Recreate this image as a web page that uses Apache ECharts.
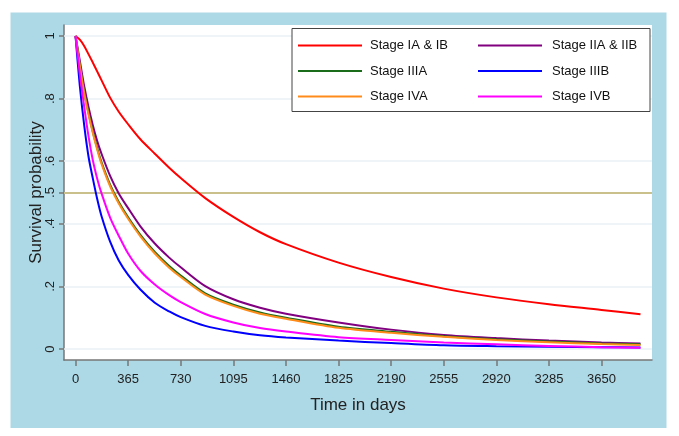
<!DOCTYPE html>
<html>
<head>
<meta charset="utf-8">
<script src="https://cdn.jsdelivr.net/npm/echarts@6/dist/echarts.min.js"></script>
<style>
  html, body { margin: 0; padding: 0; background: #fff; }
  #chart { width: 679px; height: 436px; }
</style>
</head>
<body>
<div id="chart"></div>
<script>
// time points (days) the curves were read at
var days = [0, 30, 60, 90, 120, 150, 180, 240, 300, 365, 450, 550, 650, 730, 900,
            1095, 1280, 1460, 1825, 2190, 2555, 2920, 3285, 3650, 3920];

var stageI    = [1, 0.988, 0.968, 0.942, 0.915, 0.887, 0.859, 0.803, 0.758, 0.718, 0.67, 0.624, 0.579, 0.546, 0.482,
                 0.422, 0.373, 0.335, 0.276, 0.230, 0.193, 0.165, 0.143, 0.125, 0.111];
var stageII   = [1, 0.92, 0.84, 0.773, 0.715, 0.665, 0.624, 0.553, 0.497, 0.45, 0.392, 0.337, 0.292, 0.261, 0.201,
                 0.159, 0.132, 0.113, 0.085, 0.062, 0.045, 0.035, 0.027, 0.021, 0.018];
var stageIIIA = [1, 0.907, 0.821, 0.754, 0.694, 0.642, 0.597, 0.525, 0.47, 0.421, 0.365, 0.31, 0.265, 0.235, 0.178,
                 0.142, 0.117, 0.1, 0.071, 0.055, 0.041, 0.031, 0.024, 0.018, 0.015];
var stageIIIB = [1, 0.84, 0.715, 0.615, 0.545, 0.48, 0.425, 0.343, 0.283, 0.237, 0.19, 0.148, 0.12, 0.102, 0.074,
                 0.056, 0.044, 0.037, 0.027, 0.019, 0.012, 0.009, 0.007, 0.006, 0.005];
var stageIVA  = [1, 0.905, 0.818, 0.75, 0.69, 0.638, 0.592, 0.52, 0.465, 0.416, 0.36, 0.305, 0.26, 0.23, 0.174,
                 0.138, 0.113, 0.097, 0.068, 0.052, 0.039, 0.029, 0.022, 0.016, 0.013];
var stageIVB  = [1, 0.878, 0.775, 0.68, 0.603, 0.545, 0.498, 0.42, 0.362, 0.305, 0.25, 0.206, 0.172, 0.15, 0.112,
                 0.085, 0.067, 0.056, 0.038, 0.029, 0.021, 0.015, 0.01, 0.006, 0.004];

var xTicks = [0, 365, 730, 1095, 1460, 1825, 2190, 2555, 2920, 3285, 3650];
var yTicks = [0, 0.2, 0.4, 0.5, 0.6, 0.8, 1];
var yGrid  = [0, 0.2, 0.4, 0.6, 0.8, 1];
var refLine = 0.5;

var chart = echarts.init(document.getElementById('chart'));

function pairs(vals) {
    return days.map(function (d, i) { return [d, vals[i]]; });
}

function curve(name, vals, color) {
    return {
        name: name,
        type: 'line',
        data: pairs(vals),
        symbol: 'none',
        smooth: 0.3,
        lineStyle: { color: color, width: 2 },
        itemStyle: { color: color },
        z: 3
    };
}

var font = 'Liberation Sans, Arial, sans-serif';

function legendCol(left, names, pad) {
    return {
        left: left, top: 39, orient: 'vertical', padding: 0,
        icon: 'rect', itemWidth: 64, itemHeight: 2, itemGap: 12.5,
        textStyle: { fontSize: 13, color: '#111', padding: [0, 0, 0, pad] },
        data: names
    };
}

option = {
    animation: false,
    backgroundColor: '#fff',
    textStyle: { fontFamily: font },
    graphic: [
        { type: 'rect', z: -2, silent: true,
          shape: { x: 10.5, y: 12.5, width: 656, height: 415.5 },
          style: { fill: '#add8e6' } },
        { type: 'rect', z: -1, silent: true,
          shape: { x: 64, y: 25, width: 588, height: 335 },
          style: { fill: '#ffffff' } },
        { type: 'rect', z: 3, silent: true,
          shape: { x: 292, y: 28.5, width: 358, height: 83 },
          style: { fill: '#ffffff', stroke: '#444', lineWidth: 1 } }
    ],
    legend: [
        legendCol(298, ['Stage IA & IB', 'Stage IIIA', 'Stage IVA'], 3),
        legendCol(478, ['Stage IIA & IIB', 'Stage IIIB', 'Stage IVB'], 5)
    ],
    grid: { left: 64, top: 25, right: 27, bottom: 76 },
    xAxis: {
        type: 'value',
        min: -80,
        max: 4000,
        name: 'Time in days',
        nameLocation: 'middle',
        nameGap: 37,
        nameMoveOverlap: false,
        nameTextStyle: { fontSize: 17, color: '#222' },
        axisLine: { onZero: false, lineStyle: { color: '#777', width: 1.5 } },
        axisTick: { customValues: xTicks, length: 6, lineStyle: { color: '#777', width: 1.5 } },
        axisLabel: {
            customValues: xTicks, fontSize: 13, color: '#222', margin: 13,
            formatter: function (v) { return String(v); }
        },
        splitLine: { show: false }
    },
    yAxis: {
        type: 'value',
        min: -0.035,
        max: 1.035,
        name: 'Survival probability',
        nameLocation: 'middle',
        nameGap: 19,
        nameMoveOverlap: false,
        nameTextStyle: { fontSize: 17, color: '#222' },
        axisLine: { show: true, onZero: false, lineStyle: { color: '#777', width: 1.5 } },
        axisTick: { show: true, customValues: yTicks, length: 5, lineStyle: { color: '#777', width: 1.5 } },
        axisLabel: {
            customValues: yTicks, rotate: 90, fontSize: 13, color: '#222', margin: 7,
            formatter: function (v) {
                if (v === 0) return '0';
                if (v === 1) return '1';
                return String(+v.toFixed(2)).replace('0.', '.');
            }
        },
        splitLine: { show: false }
    },
    series: [
        {
            name: 'grid',
            type: 'line',
            data: [],
            silent: true,
            z: 1,
            markLine: {
                z: 1,
                silent: true,
                symbol: 'none',
                label: { show: false },
                lineStyle: { color: '#e9f0f4', width: 1.5, type: 'solid' },
                data: yGrid.map(function (v) { return { yAxis: v }; })
            }
        },
        {
            name: 'ref',
            type: 'line',
            data: [],
            silent: true,
            z: 2,
            markLine: {
                z: 2,
                silent: true,
                symbol: 'none',
                label: { show: false },
                lineStyle: { color: '#c9c08c', width: 2, type: 'solid' },
                data: [{ yAxis: refLine }]
            }
        },
        curve('Stage IA & IB', stageI, '#ff0000'),
        curve('Stage IIA & IIB', stageII, '#800080'),
        curve('Stage IIIA', stageIIIA, '#1a6b1a'),
        curve('Stage IIIB', stageIIIB, '#0000ff'),
        curve('Stage IVA', stageIVA, '#ff8c1a'),
        curve('Stage IVB', stageIVB, '#ff00ff')
    ]
};

chart.setOption(option);
</script>
</body>
</html>
